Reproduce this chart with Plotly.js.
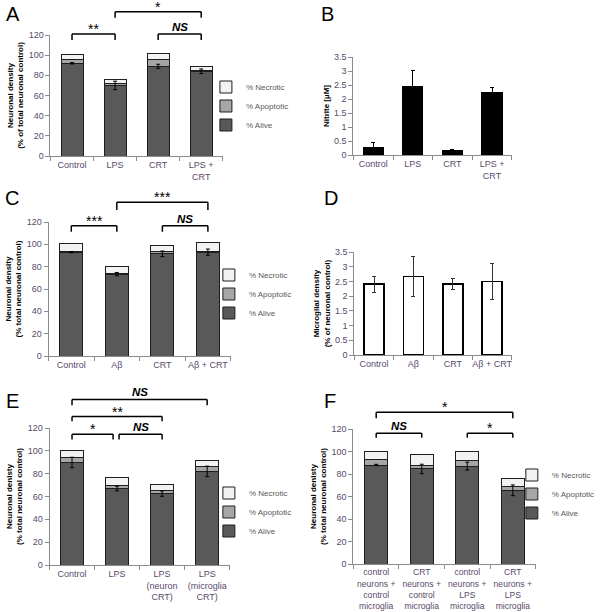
<!DOCTYPE html>
<html><head><meta charset="utf-8">
<script src="https://cdn.plot.ly/plotly-3.0.1.min.js"></script>
<style>html,body{margin:0;padding:0;background:#fff}#chart{width:600px;height:612px}</style>
</head><body><div id="chart"></div>
<script>
// ---------- DATA ----------
const catsA = ['Control', 'LPS', 'CRT', 'LPS +<br>CRT'];
const aliveA = [92, 70, 89, 84];
const aliveErrA = [0.7, 4.2, 2, 2.3];
const apopA = [3.5, 1.5, 7, 1];
const necA = [5, 4.5, 6, 4];

const catsB = ['Control', 'LPS', 'CRT', 'LPS +<br>CRT'];
const nitriteB = [0.26, 2.46, 0.15, 2.25];
const nitriteErrB = [0.19, 0.55, 0.04, 0.17];

const catsC = ['Control', 'Aβ', 'CRT', 'Aβ + CRT'];
const aliveC = [93, 73.3, 91.5, 93];
const aliveErrC = [0.5, 1.5, 2.5, 2.8];
const apopC = [0.8, 0.7, 2, 1];
const necC = [7, 6.3, 5.5, 7.2];

const catsD = ['Control', 'Aβ', 'CRT', 'Aβ + CRT'];
const microD = [2.41, 2.67, 2.41, 2.5];
const microErrD = [0.27, 0.67, 0.2, 0.6];

const catsE = ['Control', 'LPS', 'LPS<br>(neuron<br>CRT)', 'LPS<br>(microglia<br>CRT)'];
const aliveE = [89.8, 67, 62.5, 82];
const aliveErrE = [4.6, 2, 2.3, 4.6];
const apopE = [4.3, 2.8, 2.5, 4];
const necE = [6, 7, 5.1, 5.7];

const catsF = ['control<br>neurons +<br>control<br>microglia', 'CRT<br>neurons +<br>control<br>microglia',
               'control<br>neurons +<br>LPS<br>microglia', 'CRT<br>neurons +<br>LPS<br>microglia'];
const aliveF = [88, 84.5, 87, 65.5];
const aliveErrF = [0.6, 4.2, 3.5, 4.8];
const apopF = [4.8, 3, 4.8, 3];
const necF = [7.2, 10, 8, 7.7];

const seriesNames = ['% Alive', '% Apoptotic', '% Necrotic'];

// significance brackets: [fromCat, toCat, lineValue, tickEndValue, label, dxFromPx, dxToPx]
const sigA = [[0, 1, 121, 115, '**', 0, 0], [2, 3, 121, 115, 'NS', 0, 0], [1, 3, 143, 137, '*', 0, 0]];
const sigC = [[0, 1, 116.7, 111.3, '***', 0, 0], [2, 3, 116.7, 111.3, 'NS', 0, 0], [1, 3, 137.6, 130.7, '***', 0, 0]];
const sigE = [[0, 3, 145, 140, 'NS', 0, 0], [0, 2, 130, 126, '**', 0, 0], [0, 1, 114.5, 110, '*', 0, -4], [1, 2, 114.5, 110, 'NS', 2, 0]];
const sigF = [[0, 3, 134.8, 129.5, '*', 0, 0], [0, 1, 116.2, 112.3, 'NS', 0, 0], [2, 3, 116.2, 112.3, '*', 0, 0]];

// ---------- STYLE / LAYOUT ----------
const W = 600, H = 612;
const FONT = 'Liberation Sans, Arial, sans-serif';
const tickFont = {family: FONT, size: 9, color: '#594a6b'};
const colAlive = '#595959', colApop = '#a6a6a6', colNec = '#f2f2f2';
const outline = {color: '#1e1e1e', width: 1};

function dxp(a, b) { return [a / W, b / W]; }
function dyp(top, bottom) { return [1 - bottom / H, 1 - top / H]; }

function xAx(dom, anchor, fontSize) {
  return {domain: dom, anchor: anchor, type: 'category', range: [-0.5, 3.5], tickangle: 0,
    showline: true, linecolor: '#8c8c8c', linewidth: 1, ticks: 'outside', tickson: 'boundaries',
    ticklen: 4, tickcolor: '#8c8c8c', tickfont: Object.assign({}, tickFont, {size: fontSize || 9}),
    showgrid: false, zeroline: false, fixedrange: true};
}
function yAx(dom, anchor, range, dtick, title, standoff) {
  return {domain: dom, anchor: anchor, range: range, dtick: dtick, tick0: 0,
    showline: true, linecolor: '#8c8c8c', linewidth: 1, ticks: 'outside', ticklen: 4, tickcolor: '#8c8c8c',
    tickfont: tickFont, showgrid: false, zeroline: false, fixedrange: true,
    title: {text: title, font: {family: FONT, size: 8, color: '#000', weight: 700}, standoff: standoff}};
}

function stack(cats, alive, err, apop, nec, xa, ya, legendId) {
  const vals = [alive, apop, nec], cols = [colAlive, colApop, colNec];
  const tr = vals.map((v, i) => ({type: 'bar', x: cats, y: v, name: seriesNames[i], xaxis: xa, yaxis: ya,
    legend: legendId, marker: {color: cols[i], line: outline}, hoverinfo: 'skip'}));
  // error bars of % Alive drawn on top of the stack
  tr.push({type: 'scatter', mode: 'markers', x: cats, y: alive, xaxis: xa, yaxis: ya, showlegend: false,
    marker: {size: 2, color: 'rgba(0,0,0,0)'}, hoverinfo: 'skip',
    error_y: {type: 'data', array: err, visible: true, color: '#000', thickness: 1, width: 2}});
  return tr;
}

const traces = [].concat(
  stack(catsA, aliveA, aliveErrA, apopA, necA, 'x', 'y', 'legend'),
  [{type: 'bar', x: catsB, y: nitriteB, name: 'Nitrite', xaxis: 'x2', yaxis: 'y2', showlegend: false,
    marker: {color: '#000', line: {color: '#000', width: 1}}, hoverinfo: 'skip',
    error_y: {type: 'data', array: nitriteErrB, visible: true, color: '#000', thickness: 1, width: 2}}],
  stack(catsC, aliveC, aliveErrC, apopC, necC, 'x3', 'y3', 'legend2'),
  [{type: 'bar', x: catsD, y: microD, name: 'Microglia', xaxis: 'x4', yaxis: 'y4', showlegend: false,
    marker: {color: '#fff', line: {color: '#000', width: 1.6}}, hoverinfo: 'skip',
    error_y: {type: 'data', array: microErrD, visible: true, color: '#333', thickness: 1, width: 2}}],
  stack(catsE, aliveE, aliveErrE, apopE, necE, 'x5', 'y5', 'legend3'),
  stack(catsF, aliveF, aliveErrF, apopF, necF, 'x6', 'y6', 'legend4')
);

function leg(xpx, ycpx) {
  return {x: xpx / W, y: 1 - ycpx / H, xref: 'paper', yref: 'paper', xanchor: 'left', yanchor: 'middle',
    font: {family: FONT, size: 8, color: '#595959'}, bgcolor: 'rgba(0,0,0,0)', borderwidth: 0,
    traceorder: 'reversed', itemclick: false, itemdoubleclick: false};
}

const shapes = [], annotations = [];
function addSig(list, xa, ya, ymax, widthPx) {
  list.forEach(s => {
    const x1 = (s[0] + 0.5) / 4 + s[5] / widthPx, x2 = (s[1] + 0.5) / 4 + s[6] / widthPx;
    const yl = s[2] / ymax, ye = s[3] / ymax;
    const base = {type: 'line', xref: xa + ' domain', yref: ya + ' domain', line: {color: '#000', width: 1.5}};
    shapes.push(Object.assign({x0: x1, x1: x1, y0: ye, y1: yl}, base));
    shapes.push(Object.assign({x0: x1, x1: x2, y0: yl, y1: yl}, base));
    shapes.push(Object.assign({x0: x2, x1: x2, y0: ye, y1: yl}, base));
    const isNS = s[4] === 'NS';
    annotations.push({xref: xa + ' domain', yref: ya + ' domain', x: (x1 + x2) / 2, y: yl,
      xanchor: 'center', yanchor: 'bottom', showarrow: false, yshift: isNS ? -1 : -5,
      text: isNS ? '<b><i>NS</i></b>' : s[4],
      font: {family: FONT, size: isNS ? 11.5 : 14, color: '#000'}});
  });
}
addSig(sigA, 'x', 'y', 120, 174);
addSig(sigC, 'x3', 'y3', 120, 184);
addSig(sigE, 'x5', 'y5', 120, 182);
addSig(sigF, 'x6', 'y6', 120, 184);

[['A', 4, 14], ['B', 322, 14], ['C', 3, 198], ['D', 325, 198], ['E', 4, 401], ['F', 325, 401]].forEach(l => {
  annotations.push({xref: 'paper', yref: 'paper', x: l[1] / W, y: 1 - l[2] / H, xanchor: 'left', yanchor: 'middle',
    showarrow: false, text: l[0], font: {family: FONT, size: 20, color: '#000'}});
});

const layout = {
  width: W, height: H, margin: {l: 0, r: 0, t: 0, b: 0}, paper_bgcolor: '#fff', plot_bgcolor: '#fff',
  barmode: 'stack', bargap: 0.49, hovermode: false, font: {family: FONT},
  xaxis: xAx(dxp(51, 225), 'y'),
  yaxis: yAx(dyp(35, 156), 'x', [0, 120], 20, 'Neuronal density<br>(% of total neuronal control)', 3),
  xaxis2: xAx(dxp(357, 517), 'y2'),
  yaxis2: yAx(dyp(57, 155), 'x2', [0, 3.5], 0.5, 'Nitrite [µM]', 3),
  xaxis3: xAx(dxp(49, 233), 'y3'),
  yaxis3: yAx(dyp(222, 356), 'x3', [0, 120], 20, 'Neuronal density<br>(% total neuronal control)', 3),
  xaxis4: xAx(dxp(358, 517), 'y4'),
  yaxis4: yAx(dyp(252, 355), 'x4', [0, 3.5], 0.5, 'Microglial density<br>(% of neuronal control)', 3),
  xaxis5: xAx(dxp(50, 232), 'y5'),
  yaxis5: yAx(dyp(428, 565), 'x5', [0, 120], 20, 'Neuronal denisty<br>(% total neuronal control)', 3),
  xaxis6: xAx(dxp(357, 541), 'y6', 8.6),
  yaxis6: yAx(dyp(429, 564), 'x6', [0, 120], 20, 'Neuronal denisty<br>(% total neuronal control)', 3),
  legend: leg(208, 106),
  legend2: leg(211, 294),
  legend3: leg(211, 512),
  legend4: leg(517, 494),
  shapes: shapes,
  annotations: annotations
};

Plotly.newPlot('chart', traces, layout, {displayModeBar: false, staticPlot: true});
</script>
</body></html>
